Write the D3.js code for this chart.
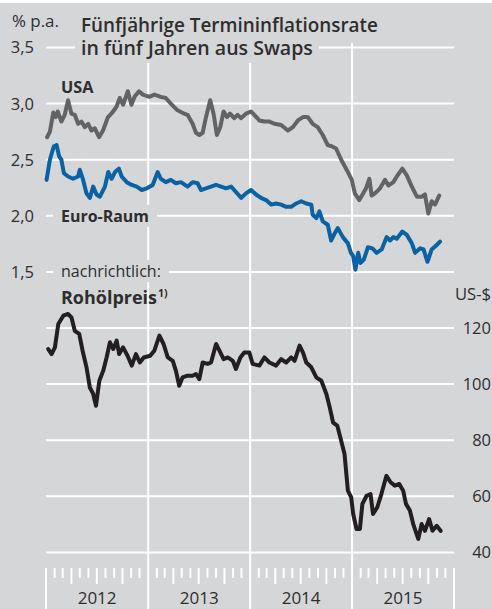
<!DOCTYPE html>
<html>
<head>
<meta charset="utf-8">
<script src="https://cdn.jsdelivr.net/npm/d3@7"></script>
<style>
  body { margin: 0; background: #fff; }
  text { font-family: "Open Sans", sans-serif; fill: #2e2e2e; }
</style>
</head>
<body>
<svg id="chart" width="492" height="609"></svg>
<script>
// Fünfjährige Termininflationsrate in fünf Jahren (% p.a.)
const usa = [
  ["2012-01-05",2.70],["2012-01-15",2.75],["2012-01-27",2.92],["2012-02-05",2.88],["2012-02-12",2.93],["2012-02-25",2.84],
  ["2012-03-08",2.90],["2012-03-20",3.03],["2012-04-01",2.91],["2012-04-13",2.90],["2012-04-25",2.82],["2012-05-07",2.84],
  ["2012-05-19",2.79],["2012-05-31",2.82],["2012-06-12",2.76],["2012-06-24",2.78],["2012-07-09",2.70],["2012-07-23",2.76],
  ["2012-08-10",2.88],["2012-08-22",2.91],["2012-09-09",2.97],["2012-09-21",3.05],["2012-10-03",2.99],["2012-10-20",3.11],
  ["2012-11-02",2.99],["2012-11-13",3.06],["2012-11-29",3.11],["2012-12-13",3.08],
  ["2013-01-05",3.06],["2013-01-23",3.08],["2013-02-15",3.06],["2013-03-05",3.05],["2013-03-23",3.00],["2013-04-16",2.94],
  ["2013-05-10",2.91],["2013-05-22",2.90],["2013-06-09",2.82],["2013-06-21",2.74],["2013-07-03",2.72],["2013-07-15",2.74],
  ["2013-07-27",2.88],["2013-08-11",3.03],["2013-08-23",2.91],["2013-09-04",2.72],["2013-09-16",2.79],["2013-09-28",2.93],
  ["2013-10-10",2.88],["2013-10-21",2.91],["2013-11-05",2.87],["2013-11-17",2.90],["2013-11-29",2.87],["2013-12-17",2.91],
  ["2014-01-04",2.93],["2014-01-16",2.90],["2014-02-03",2.85],["2014-02-21",2.84],["2014-03-11",2.84],["2014-03-29",2.82],
  ["2014-04-22",2.81],["2014-05-16",2.76],["2014-06-03",2.79],["2014-06-21",2.85],["2014-07-09",2.88],["2014-07-26",2.88],
  ["2014-08-13",2.82],["2014-08-31",2.79],["2014-09-18",2.72],["2014-10-06",2.63],["2014-10-20",2.62],["2014-11-05",2.60],
  ["2014-11-23",2.50],["2014-12-17",2.39],["2014-12-31",2.32],
  ["2015-01-11",2.20],["2015-01-27",2.14],["2015-02-10",2.20],["2015-02-20",2.245],["2015-03-04",2.33],["2015-03-12",2.18],
  ["2015-03-24",2.20],["2015-04-11",2.245],["2015-04-29",2.32],["2015-05-11",2.27],["2015-05-29",2.30],["2015-06-10",2.35],
  ["2015-06-30",2.42],["2015-07-16",2.36],["2015-08-03",2.26],["2015-08-21",2.17],["2015-09-08",2.17],["2015-09-19",2.19],
  ["2015-10-01",2.02],["2015-10-13",2.13],["2015-10-25",2.10],["2015-11-09",2.18]
];

const euro = [
  ["2012-01-03",2.32],["2012-01-15",2.50],["2012-01-29",2.62],["2012-02-08",2.63],["2012-02-17",2.53],["2012-02-25",2.50],
  ["2012-03-05",2.38],["2012-03-20",2.35],["2012-04-07",2.33],["2012-04-25",2.35],["2012-05-01",2.41],["2012-05-13",2.32],
  ["2012-05-25",2.20],["2012-06-06",2.16],["2012-06-18",2.26],["2012-06-30",2.19],["2012-07-12",2.17],["2012-07-30",2.26],
  ["2012-08-11",2.39],["2012-08-23",2.33],["2012-09-04",2.39],["2012-09-18",2.42],["2012-09-28",2.35],["2012-10-16",2.30],
  ["2012-11-03",2.275],["2012-11-21",2.26],["2012-12-09",2.23],["2012-12-27",2.245],
  ["2013-01-17",2.275],["2013-02-04",2.39],["2013-02-15",2.33],["2013-03-05",2.30],["2013-03-23",2.32],["2013-04-10",2.29],
  ["2013-04-28",2.30],["2013-05-22",2.26],["2013-06-09",2.30],["2013-06-27",2.29],["2013-07-09",2.23],["2013-07-27",2.245],
  ["2013-08-14",2.26],["2013-09-01",2.275],["2013-09-19",2.26],["2013-10-07",2.245],["2013-10-25",2.26],["2013-11-12",2.21],
  ["2013-11-30",2.16],["2013-12-17",2.20],
  ["2014-01-04",2.23],["2014-01-22",2.19],["2014-02-09",2.16],["2014-02-27",2.14],["2014-03-17",2.10],["2014-04-04",2.11],
  ["2014-04-22",2.10],["2014-05-10",2.08],["2014-05-28",2.08],["2014-06-15",2.11],["2014-07-03",2.13],["2014-07-21",2.11],
  ["2014-08-08",2.10],["2014-08-13",2.01],["2014-08-26",1.98],["2014-09-06",2.04],["2014-09-18",1.95],["2014-10-06",1.92],
  ["2014-10-18",1.78],["2014-10-30",1.84],["2014-11-11",1.89],["2014-11-29",1.81],["2014-12-17",1.755],["2014-12-28",1.67],
  ["2015-01-05",1.64],["2015-01-13",1.52],["2015-01-23",1.67],["2015-01-31",1.58],["2015-02-12",1.61],["2015-02-27",1.72],
  ["2015-03-15",1.71],["2015-03-30",1.67],["2015-04-17",1.70],["2015-05-05",1.81],["2015-05-17",1.78],["2015-05-29",1.81],
  ["2015-06-10",1.795],["2015-06-30",1.86],["2015-07-16",1.83],["2015-08-03",1.755],["2015-08-15",1.67],["2015-09-02",1.71],
  ["2015-09-14",1.70],["2015-09-28",1.59],["2015-10-13",1.70],["2015-10-31",1.74],["2015-11-12",1.77]
];

// Rohölpreis (US-$)
const oil = [
  ["2012-01-09",112.5],["2012-01-21",110.7],["2012-02-02",113.1],["2012-02-14",121.4],["2012-03-03",124.4],["2012-03-20",125.0],
  ["2012-04-01",123.8],["2012-04-13",119.0],["2012-04-29",117.9],["2012-05-11",111.9],["2012-05-25",106.0],["2012-06-06",98.8],
  ["2012-06-18",96.5],["2012-06-28",92.3],["2012-07-10",101.2],["2012-07-24",104.8],["2012-08-05",109.5],["2012-08-17",114.9],
  ["2012-08-29",112.5],["2012-09-10",115.5],["2012-09-19",110.7],["2012-10-03",113.1],["2012-10-19",110.1],["2012-11-03",106.6],
  ["2012-11-18",110.7],["2012-12-02",107.7],["2012-12-16",109.5],
  ["2013-01-08",110.1],["2013-01-23",111.9],["2013-02-10",117.3],["2013-02-25",114.3],["2013-03-12",109.5],["2013-03-30",108.3],
  ["2013-04-10",104.8],["2013-04-22",99.4],["2013-05-04",102.4],["2013-05-22",103.0],["2013-06-09",103.0],["2013-06-21",103.6],
  ["2013-07-03",101.8],["2013-07-15",107.7],["2013-08-02",107.2],["2013-08-14",107.7],["2013-09-01",114.3],["2013-09-13",111.9],
  ["2013-09-28",108.9],["2013-10-13",109.5],["2013-10-31",108.3],["2013-11-11",105.4],["2013-11-27",109.5],["2013-12-11",111.3],
  ["2013-12-29",111.3],
  ["2014-01-10",107.2],["2014-02-03",106.6],["2014-02-21",109.5],["2014-03-11",107.7],["2014-04-04",106.6],["2014-04-22",108.9],
  ["2014-05-10",107.7],["2014-05-28",109.5],["2014-06-09",108.3],["2014-06-27",113.7],["2014-07-09",111.3],["2014-07-21",107.7],
  ["2014-08-08",106.0],["2014-08-26",102.4],["2014-09-13",101.2],["2014-10-01",96.5],["2014-10-13",91.7],["2014-10-25",86.3],
  ["2014-11-09",85.2],["2014-11-23",79.8],["2014-12-05",75.1],["2014-12-17",62.0],["2014-12-29",59.6],
  ["2015-01-05",53.7],["2015-01-17",48.3],["2015-01-29",48.3],["2015-02-07",57.3],["2015-02-22",60.2],["2015-03-08",60.8],
  ["2015-03-17",53.7],["2015-04-01",56.0],["2015-04-16",60.8],["2015-05-04",67.3],["2015-05-19",65.0],["2015-06-03",63.8],
  ["2015-06-19",64.4],["2015-07-03",62.0],["2015-07-13",57.3],["2015-07-27",54.9],["2015-08-08",50.1],["2015-08-26",44.8],
  ["2015-09-07",50.1],["2015-09-19",47.7],["2015-10-04",51.9],["2015-10-16",47.7],["2015-10-31",49.5],["2015-11-14",47.7]
];

const leftTicks = [1.5, 2.0, 2.5, 3.0, 3.5];
const rightTicks = [40, 60, 80, 100, 120];
const yearLabels = ["2012", "2013", "2014", "2015"];

const W = 492, H = 609;
const bg = "#d5d6d8";
const svg = d3.select("#chart");
const parse = d3.timeParse("%Y-%m-%d");
const fmtComma = d3.format(".1f");

svg.append("rect").attr("y", 3).attr("width", W).attr("height", H - 3).attr("fill", bg);

const x = d3.scaleTime().domain([new Date(2012, 0, 1), new Date(2016, 0, 1)]).range([46, 454]);
const yL = d3.scaleLinear().domain([1.5, 3.5]).range([271.9, 47.5]);
const yR = d3.scaleLinear().domain([40, 120]).range([552.4, 328]);

// grid
const grid = svg.append("g").attr("stroke", "#fff").attr("stroke-width", 2);
grid.selectAll(".hl").data(leftTicks).join("line")
  .attr("x1", 46).attr("x2", 454).attr("y1", d => yL(d)).attr("y2", d => yL(d));
grid.selectAll(".hr").data(rightTicks).join("line")
  .attr("x1", 46).attr("x2", 454).attr("y1", d => yR(d)).attr("y2", d => yR(d));

const years = d3.timeYear.range(new Date(2012, 0, 1), new Date(2017, 0, 1));
grid.selectAll(".v").data(years).join("line")
  .attr("x1", d => x(d)).attr("x2", d => x(d))
  .attr("y1", (d, i) => (i === 0 || i === years.length - 1) ? 568 : 43)
  .attr("y2", H);

const months = d3.timeMonth.range(new Date(2012, 0, 1), new Date(2016, 0, 1)).filter(d => d.getMonth() !== 0);
grid.selectAll(".m").data(months).join("line")
  .attr("x1", d => x(d)).attr("x2", d => x(d))
  .attr("y1", 568).attr("y2", d => d.getMonth() % 3 === 0 ? 584 : 578);

// scale a text so that it spans the width seen in the reference
function fit(sel, width) {
  const n = sel.node();
  const fs = +sel.attr("font-size");
  sel.attr("font-size", fs * width / n.getComputedTextLength());
  return sel;
}
function maskedText(g, pad) {
  const b = g.node().getBBox();
  g.insert("rect", ":first-child")
    .attr("x", b.x - pad).attr("y", b.y).attr("width", b.width + 2 * pad).attr("height", b.height)
    .attr("fill", bg);
}

svg.append("rect").attr("x", 75).attr("y", 3).attr("width", 244).attr("height", 60).attr("fill", bg);
const title = svg.append("g").attr("font-weight", 600);
fit(title.append("text").attr("x", 81).attr("y", 31.5).attr("font-size", 19).text("Fünfjährige Termininflationsrate"), 297);
fit(title.append("text").attr("x", 81).attr("y", 55).attr("font-size", 19).text("in fünf Jahren aus Swaps"), 232);

fit(svg.append("text").attr("x", 12).attr("y", 27).attr("font-size", 15.5).text("% p.a."), 47);

const euroLbl = svg.append("g");
fit(euroLbl.append("text").attr("x", 61).attr("y", 221.7).attr("font-size", 16).attr("font-weight", 700).text("Euro-Raum"), 88);
maskedText(euroLbl, 8);

const nachLbl = svg.append("g");
fit(nachLbl.append("text").attr("x", 61).attr("y", 277).attr("font-size", 16).text("nachrichtlich:"), 100);
maskedText(nachLbl, 8);

fit(svg.append("text").attr("x", 61).attr("y", 92.7).attr("font-size", 16).attr("font-weight", 700).text("USA"), 32.5);
const roh = svg.append("text").attr("x", 61).attr("y", 304).attr("font-size", 16).attr("font-weight", 700);
roh.append("tspan").text("Rohölpreis");
const rohLen = roh.node().getComputedTextLength();
roh.attr("font-size", 16 * 96 / rohLen);
roh.append("tspan").attr("font-size", 10.5).attr("dy", -7).attr("dx", 1).text("1)");

fit(svg.append("text").attr("x", 491).attr("y", 300).attr("font-size", 16).attr("text-anchor", "end").text("US-$"), 36);

// axes labels
svg.selectAll(".ly").data(leftTicks).join("text")
  .attr("x", 34).attr("y", d => yL(d)).attr("dy", "0.36em").attr("text-anchor", "end").attr("font-size", 16.5)
  .text(d => fmtComma(d).replace(".", ","));
svg.selectAll(".ry").data(rightTicks).join("text")
  .attr("x", 491).attr("y", d => yR(d)).attr("dy", "0.36em").attr("text-anchor", "end").attr("font-size", 16.5)
  .text(d => d);
svg.selectAll(".yr").data(yearLabels).join("text")
  .attr("x", d => (x(new Date(+d, 0, 1)) + x(new Date(+d + 1, 0, 1))) / 2)
  .attr("y", 604).attr("text-anchor", "middle").attr("font-size", 17)
  .text(d => d);

// series
const lineL = d3.line().x(d => x(parse(d[0]))).y(d => yL(d[1]));
const lineR = d3.line().x(d => x(parse(d[0]))).y(d => yR(d[1]));
const series = [
  { data: usa, gen: lineL, color: "#636363" },
  { data: euro, gen: lineL, color: "#0a62a4" },
  { data: oil, gen: lineR, color: "#231f20" }
];
svg.selectAll(".series").data(series).join("path")
  .attr("d", d => d.gen(d.data))
  .attr("fill", "none").attr("stroke", d => d.color).attr("stroke-width", 4)
  .attr("stroke-linejoin", "round").attr("stroke-linecap", "round");
</script>
</body>
</html>
